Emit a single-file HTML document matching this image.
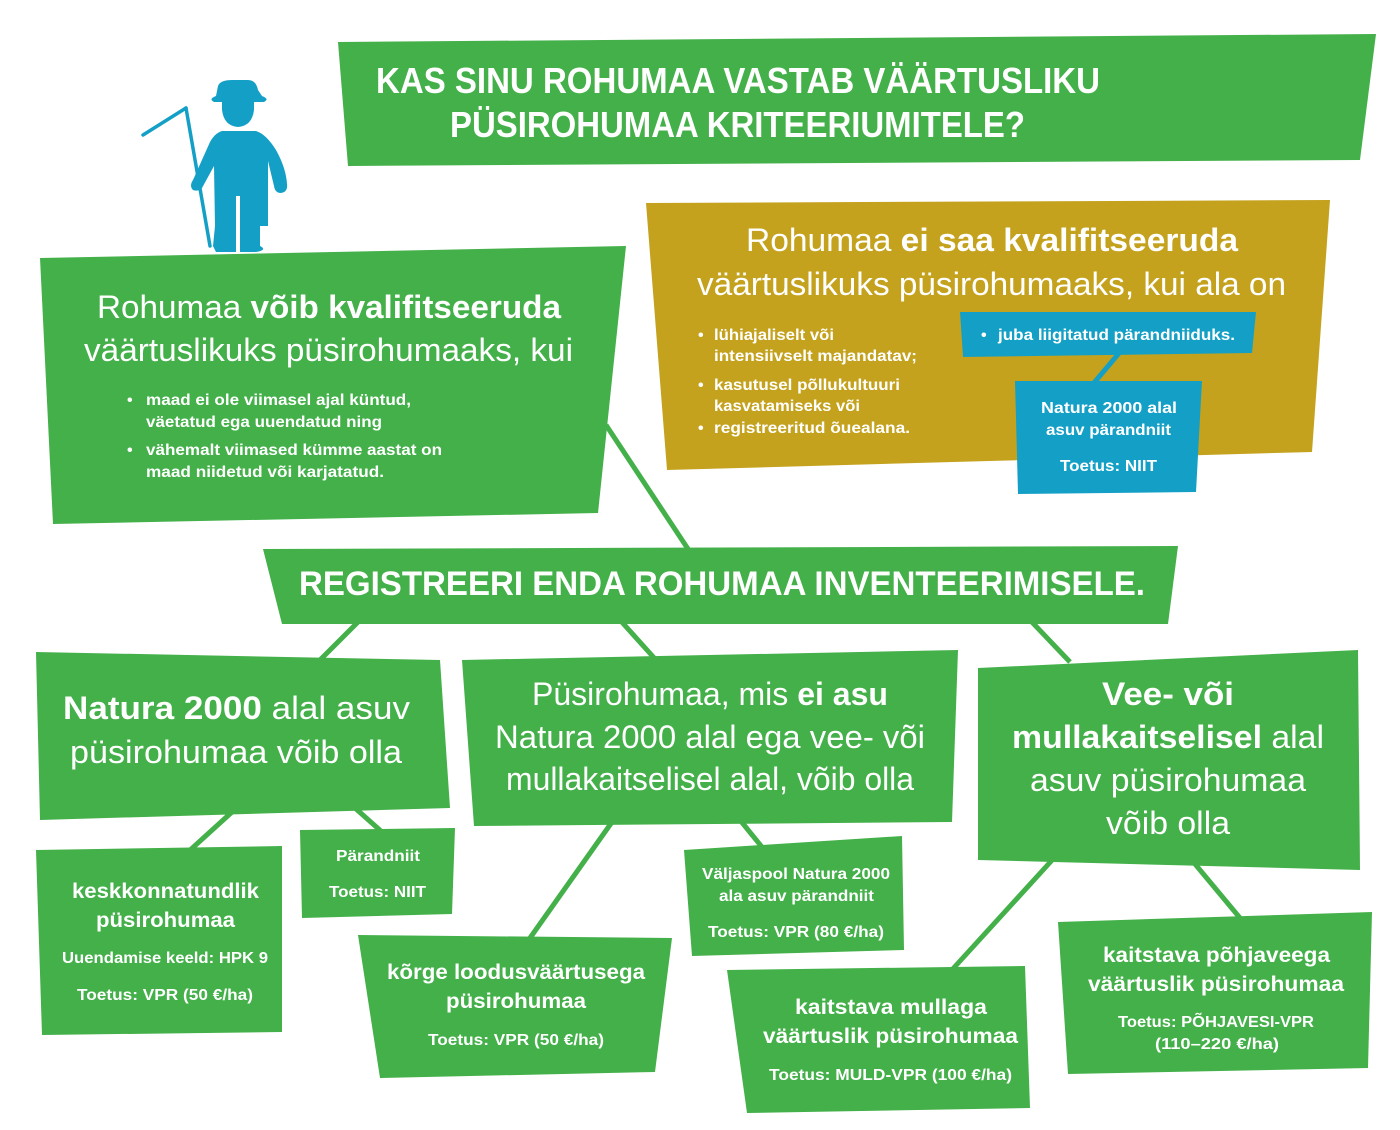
<!DOCTYPE html>
<html><head><meta charset="utf-8"><style>
html,body{margin:0;padding:0;background:#fff;width:1400px;height:1130px;overflow:hidden}
svg text{font-family:"Liberation Sans Narrow","Liberation Sans",sans-serif;fill:#fff}
.h{font-size:32px}
.b{font-weight:bold}
.s{font-size:16px;font-weight:bold}
.m{font-size:21px;font-weight:bold}
</style></head><body>
<svg width="1400" height="1130" viewBox="0 0 1400 1130" xmlns="http://www.w3.org/2000/svg">
<g fill="#43b049" stroke="none">
<polygon points="338,42 1376,34 1360,160 348,166"/>
<polygon points="40,258 626,246 598,513 53,524"/>
</g>
<!-- connectors -->
<g stroke="#43b049" stroke-width="5" fill="none">
<line x1="606" y1="425" x2="690" y2="552"/>
<line x1="360" y1="620" x2="316" y2="664"/>
<line x1="620" y1="620" x2="656" y2="660"/>
<line x1="1030" y1="620" x2="1070" y2="662"/>
<line x1="232" y1="812" x2="188" y2="852"/>
<line x1="355" y1="808" x2="382" y2="832"/>
<line x1="612" y1="822" x2="530" y2="938"/>
<line x1="740" y1="820" x2="766" y2="852"/>
<line x1="1054" y1="858" x2="950" y2="972"/>
<line x1="1195" y1="864" x2="1240" y2="918"/>
</g>
<polygon points="646,203 1330,200 1312,452 667,470" fill="#c4a21e"/>
<line x1="1120" y1="352" x2="1093" y2="384" stroke="#14a0c6" stroke-width="5"/>
<g fill="#14a0c6">
<polygon points="960,312 1256,312 1252,353 963,357"/>
<polygon points="1015,381 1202,381 1196,492 1018,494"/>
<!-- farmer -->
<path d="M218,86 Q220,80 232,80 L248,80 Q256,80 258,90 L262,96 Q270,99 264,102 L254,102 L254,110 Q252,126 238,127 Q224,126 222,110 L222,102 L214,102 Q208,99 216,96 Z"/>
<path d="M222,131 L256,131 Q266,134 276,150 Q286,168 287,184 Q288,192 281,193 Q275,193 274,186 L268,161 L268,226 L260,226 L260,246 Q268,250 256,252 L216,252 L213,246 L215,226 L214,166 L202,188 Q198,192 193,190 Q189,186 193,180 L210,142 Q215,133 222,131 Z"/>
<rect x="236" y="196" width="4" height="56" fill="#fff"/>
</g>
<g stroke="#14a0c6" stroke-width="3.5" fill="none" stroke-linecap="round">
<line x1="186" y1="108" x2="210" y2="246"/>
<path d="M186,108 L143,135"/>
</g>
<g fill="#43b049">
<polygon points="263,549 1178,546 1168,624 282,624"/>
<polygon points="36,652 440,660 450,808 40,820"/>
<polygon points="462,660 958,650 952,822 474,826"/>
<polygon points="978,668 1358,650 1360,870 978,860"/>
<polygon points="36,850 282,846 282,1032 42,1035"/>
<polygon points="300,830 455,828 452,914 302,918"/>
<polygon points="358,935 672,938 655,1072 380,1078"/>
<polygon points="684,850 902,836 904,950 692,956"/>
<polygon points="727,970 1025,966 1030,1108 747,1113"/>
<polygon points="1058,922 1372,912 1368,1068 1068,1074"/>
</g>
<!-- title -->
<text x="376" y="93" font-size="36" class="b" textLength="724" lengthAdjust="spacingAndGlyphs">KAS SINU ROHUMAA VASTAB VÄÄRTUSLIKU</text>
<text x="450" y="137" font-size="36" class="b" textLength="575" lengthAdjust="spacingAndGlyphs">PÜSIROHUMAA KRITEERIUMITELE?</text>
<!-- left box -->
<text x="97" y="318" class="h" textLength="464" lengthAdjust="spacingAndGlyphs">Rohumaa <tspan class="b">võib kvalifitseeruda</tspan></text>
<text x="84" y="361" class="h" textLength="489" lengthAdjust="spacingAndGlyphs">väärtuslikuks püsirohumaaks, kui</text>
<g class="s">
<text x="127" y="405">•</text><text x="127" y="455">•</text>
<text x="146" y="405" textLength="265" lengthAdjust="spacingAndGlyphs">maad ei ole viimasel ajal küntud,</text>
<text x="146" y="427" textLength="236" lengthAdjust="spacingAndGlyphs">väetatud ega uuendatud ning</text>
<text x="146" y="455" textLength="296" lengthAdjust="spacingAndGlyphs">vähemalt viimased kümme aastat on</text>
<text x="146" y="477" textLength="238" lengthAdjust="spacingAndGlyphs">maad niidetud või karjatatud.</text>
</g>
<!-- gold box -->
<text x="746" y="251" class="h" textLength="492" lengthAdjust="spacingAndGlyphs">Rohumaa <tspan class="b">ei saa kvalifitseeruda</tspan></text>
<text x="697" y="295" class="h" textLength="589" lengthAdjust="spacingAndGlyphs">väärtuslikuks püsirohumaaks, kui ala on</text>
<g class="s">
<text x="698" y="340">•</text><text x="698" y="390">•</text><text x="698" y="433">•</text>
<text x="714" y="340" textLength="120" lengthAdjust="spacingAndGlyphs">lühiajaliselt või</text>
<text x="714" y="361" textLength="203" lengthAdjust="spacingAndGlyphs">intensiivselt majandatav;</text>
<text x="714" y="390" textLength="186" lengthAdjust="spacingAndGlyphs">kasutusel põllukultuuri</text>
<text x="714" y="411" textLength="146" lengthAdjust="spacingAndGlyphs">kasvatamiseks või</text>
<text x="714" y="433" textLength="196" lengthAdjust="spacingAndGlyphs">registreeritud õuealana.</text>
<text x="981" y="340">•</text>
<text x="998" y="340" textLength="237" lengthAdjust="spacingAndGlyphs">juba liigitatud pärandniiduks.</text>
<text x="1041" y="413" textLength="136" lengthAdjust="spacingAndGlyphs">Natura 2000 alal</text>
<text x="1046" y="435" textLength="125" lengthAdjust="spacingAndGlyphs">asuv pärandniit</text>
<text x="1060" y="471" textLength="97" lengthAdjust="spacingAndGlyphs">Toetus: NIIT</text>
</g>
<!-- register -->
<text x="299" y="595" font-size="34" class="b" textLength="846" lengthAdjust="spacingAndGlyphs">REGISTREERI ENDA ROHUMAA INVENTEERIMISELE.</text>
<!-- box A -->
<text x="63" y="719" class="h" textLength="347" lengthAdjust="spacingAndGlyphs"><tspan class="b">Natura 2000</tspan> alal asuv</text>
<text x="70" y="763" class="h" textLength="332" lengthAdjust="spacingAndGlyphs">püsirohumaa võib olla</text>
<!-- box B -->
<text x="532" y="705" class="h" textLength="356" lengthAdjust="spacingAndGlyphs">Püsirohumaa, mis <tspan class="b">ei asu</tspan></text>
<text x="495" y="748" class="h" textLength="430" lengthAdjust="spacingAndGlyphs">Natura 2000 alal ega vee- või</text>
<text x="506" y="790" class="h" textLength="408" lengthAdjust="spacingAndGlyphs">mullakaitselisel alal, võib olla</text>
<!-- box C -->
<text x="1102" y="705" class="h b" textLength="132" lengthAdjust="spacingAndGlyphs">Vee- või</text>
<text x="1012" y="748" class="h" textLength="312" lengthAdjust="spacingAndGlyphs"><tspan class="b">mullakaitselisel</tspan> alal</text>
<text x="1030" y="791" class="h" textLength="276" lengthAdjust="spacingAndGlyphs">asuv püsirohumaa</text>
<text x="1106" y="834" class="h" textLength="124" lengthAdjust="spacingAndGlyphs">võib olla</text>
<!-- small boxes -->
<text x="72" y="898" class="m" textLength="187" lengthAdjust="spacingAndGlyphs">keskkonnatundlik</text>
<text x="96" y="927" class="m" textLength="139" lengthAdjust="spacingAndGlyphs">püsirohumaa</text>
<text x="62" y="963" class="s" textLength="206" lengthAdjust="spacingAndGlyphs">Uuendamise keeld: HPK 9</text>
<text x="77" y="1000" class="s" textLength="176" lengthAdjust="spacingAndGlyphs">Toetus: VPR (50 €/ha)</text>

<text x="336" y="861" class="s" textLength="84" lengthAdjust="spacingAndGlyphs">Pärandniit</text>
<text x="329" y="897" class="s" textLength="97" lengthAdjust="spacingAndGlyphs">Toetus: NIIT</text>

<text x="387" y="979" class="m" textLength="258" lengthAdjust="spacingAndGlyphs">kõrge loodusväärtusega</text>
<text x="446" y="1008" class="m" textLength="140" lengthAdjust="spacingAndGlyphs">püsirohumaa</text>
<text x="428" y="1045" class="s" textLength="176" lengthAdjust="spacingAndGlyphs">Toetus: VPR (50 €/ha)</text>

<text x="702" y="879" class="s" textLength="188" lengthAdjust="spacingAndGlyphs">Väljaspool Natura 2000</text>
<text x="719" y="901" class="s" textLength="155" lengthAdjust="spacingAndGlyphs">ala asuv pärandniit</text>
<text x="708" y="937" class="s" textLength="176" lengthAdjust="spacingAndGlyphs">Toetus: VPR (80 €/ha)</text>

<text x="795" y="1014" class="m" textLength="192" lengthAdjust="spacingAndGlyphs">kaitstava mullaga</text>
<text x="763" y="1043" class="m" textLength="255" lengthAdjust="spacingAndGlyphs">väärtuslik püsirohumaa</text>
<text x="769" y="1080" class="s" textLength="243" lengthAdjust="spacingAndGlyphs">Toetus: MULD-VPR (100 €/ha)</text>

<text x="1103" y="962" class="m" textLength="227" lengthAdjust="spacingAndGlyphs">kaitstava põhjaveega</text>
<text x="1088" y="991" class="m" textLength="256" lengthAdjust="spacingAndGlyphs">väärtuslik püsirohumaa</text>
<text x="1118" y="1027" class="s" textLength="196" lengthAdjust="spacingAndGlyphs">Toetus: PÕHJAVESI-VPR</text>
<text x="1155" y="1049" class="s" textLength="124" lengthAdjust="spacingAndGlyphs">(110–220 €/ha)</text>
</svg>
</body></html>
